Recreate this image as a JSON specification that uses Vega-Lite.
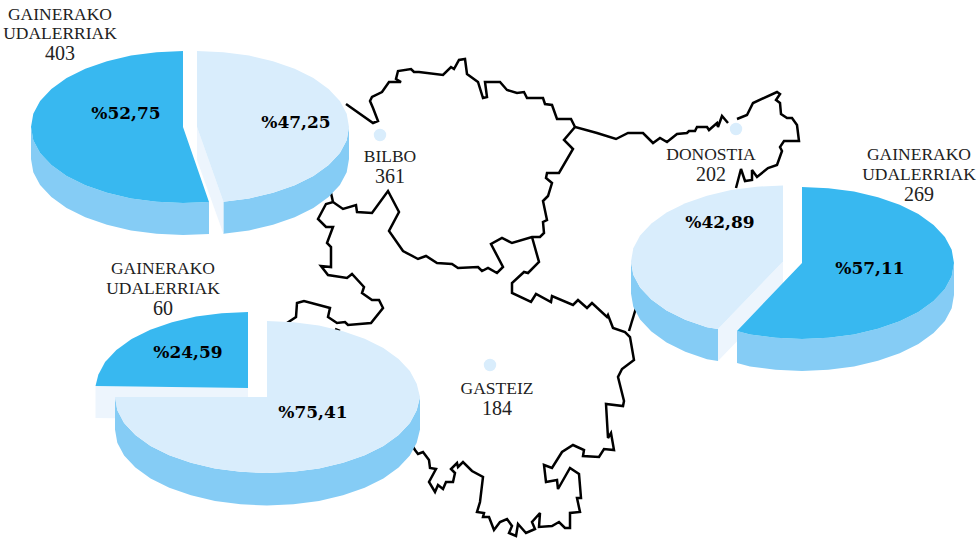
{"$schema":"https://vega.github.io/schema/vega-lite/v6.json","width":980,"height":539,"padding":0,"autosize":{"type":"none"},"background":"white","view":{"stroke":null},
"datasets":{
"map":[
{"g":"a","i":1,"x":346,"y":104},{"g":"a","i":2,"x":373,"y":123},{"g":"a","i":3,"x":378,"y":121},{"g":"a","i":4,"x":373,"y":108},{"g":"a","i":5,"x":370,"y":101},{"g":"a","i":6,"x":372,"y":97},{"g":"a","i":7,"x":382,"y":92},{"g":"a","i":8,"x":389,"y":82},{"g":"a","i":9,"x":401,"y":82},{"g":"a","i":10,"x":396,"y":79},{"g":"a","i":11,"x":398,"y":71},{"g":"a","i":12,"x":411,"y":69},{"g":"a","i":13,"x":414,"y":72},{"g":"a","i":14,"x":419,"y":72},{"g":"a","i":15,"x":443,"y":75},{"g":"a","i":16,"x":451,"y":67},{"g":"a","i":17,"x":454,"y":69},{"g":"a","i":18,"x":459,"y":60},{"g":"a","i":19,"x":465,"y":59},{"g":"a","i":20,"x":467,"y":74},{"g":"a","i":21,"x":478,"y":82},{"g":"a","i":22,"x":483,"y":98},{"g":"a","i":23,"x":487,"y":97},{"g":"a","i":24,"x":485,"y":82},{"g":"a","i":25,"x":500,"y":82},{"g":"a","i":26,"x":507,"y":90},{"g":"a","i":27,"x":517,"y":93},{"g":"a","i":28,"x":524,"y":92},{"g":"a","i":29,"x":527,"y":98},{"g":"a","i":30,"x":543,"y":98},{"g":"a","i":31,"x":545,"y":104},{"g":"a","i":32,"x":552,"y":105},{"g":"a","i":33,"x":557,"y":119},{"g":"a","i":34,"x":571,"y":119},{"g":"a","i":35,"x":575,"y":127},{"g":"a","i":36,"x":597,"y":133},{"g":"a","i":37,"x":616,"y":139},{"g":"a","i":38,"x":628,"y":133},{"g":"a","i":39,"x":643,"y":133},{"g":"a","i":40,"x":653,"y":143},{"g":"a","i":41,"x":660,"y":138},{"g":"a","i":42,"x":667,"y":142},{"g":"a","i":43,"x":677,"y":134},{"g":"a","i":44,"x":687,"y":133},{"g":"a","i":45,"x":689,"y":131},{"g":"a","i":46,"x":695,"y":131},{"g":"a","i":47,"x":697,"y":127},{"g":"a","i":48,"x":707,"y":127},{"g":"a","i":49,"x":709,"y":130},{"g":"a","i":50,"x":717,"y":123},{"g":"a","i":51,"x":718,"y":127},{"g":"a","i":52,"x":722,"y":116},{"g":"a","i":53,"x":728,"y":123},
{"g":"b","i":1,"x":737,"y":119},{"g":"b","i":2,"x":747,"y":115},{"g":"b","i":3,"x":753,"y":103},{"g":"b","i":4,"x":777,"y":92},{"g":"b","i":5,"x":780,"y":94},{"g":"b","i":6,"x":776,"y":100},{"g":"b","i":7,"x":780,"y":103},{"g":"b","i":8,"x":781,"y":114},{"g":"b","i":9,"x":787,"y":118},{"g":"b","i":10,"x":792,"y":118},{"g":"b","i":11,"x":797,"y":125},{"g":"b","i":12,"x":799,"y":141},{"g":"b","i":13,"x":784,"y":141},{"g":"b","i":14,"x":780,"y":147},{"g":"b","i":15,"x":782,"y":151},{"g":"b","i":16,"x":777,"y":165},{"g":"b","i":17,"x":768,"y":168},{"g":"b","i":18,"x":757,"y":177},{"g":"b","i":19,"x":752,"y":170},{"g":"b","i":20,"x":752,"y":180},{"g":"b","i":21,"x":745,"y":181},{"g":"b","i":22,"x":741,"y":169},{"g":"b","i":23,"x":736,"y":188},
{"g":"c","i":1,"x":575,"y":127},{"g":"c","i":2,"x":564,"y":140},{"g":"c","i":3,"x":573,"y":149},{"g":"c","i":4,"x":559,"y":173},{"g":"c","i":5,"x":547,"y":173},{"g":"c","i":6,"x":546,"y":178},{"g":"c","i":7,"x":552,"y":183},{"g":"c","i":8,"x":548,"y":196},{"g":"c","i":9,"x":543,"y":201},{"g":"c","i":10,"x":547,"y":220},{"g":"c","i":11,"x":543,"y":222},{"g":"c","i":12,"x":544,"y":233},{"g":"c","i":13,"x":540,"y":237},{"g":"c","i":14,"x":532,"y":237},{"g":"c","i":15,"x":512,"y":243},{"g":"c","i":16,"x":502,"y":238},{"g":"c","i":17,"x":491,"y":244},{"g":"c","i":18,"x":503,"y":267},{"g":"c","i":19,"x":497,"y":273},{"g":"c","i":20,"x":488,"y":268},{"g":"c","i":21,"x":482,"y":271},{"g":"c","i":22,"x":478,"y":267},{"g":"c","i":23,"x":458,"y":268},{"g":"c","i":24,"x":452,"y":264},{"g":"c","i":25,"x":437,"y":263},{"g":"c","i":26,"x":426,"y":256},{"g":"c","i":27,"x":418,"y":259},{"g":"c","i":28,"x":403,"y":251},{"g":"c","i":29,"x":389,"y":231},{"g":"c","i":30,"x":399,"y":212},{"g":"c","i":31,"x":388,"y":191},{"g":"c","i":32,"x":372,"y":213},{"g":"c","i":33,"x":357,"y":212},{"g":"c","i":34,"x":356,"y":205},{"g":"c","i":35,"x":343,"y":209},{"g":"c","i":36,"x":333,"y":202},{"g":"c","i":37,"x":326,"y":204},{"g":"c","i":38,"x":318,"y":219},{"g":"c","i":39,"x":326,"y":227},{"g":"c","i":40,"x":333,"y":227},{"g":"c","i":41,"x":327,"y":243},{"g":"c","i":42,"x":331,"y":247},{"g":"c","i":43,"x":331,"y":267},{"g":"c","i":44,"x":321,"y":266},{"g":"c","i":45,"x":328,"y":275},{"g":"c","i":46,"x":347,"y":278},{"g":"c","i":47,"x":352,"y":274},{"g":"c","i":48,"x":364,"y":287},{"g":"c","i":49,"x":362,"y":293},{"g":"c","i":50,"x":372,"y":300},{"g":"c","i":51,"x":379,"y":300},{"g":"c","i":52,"x":383,"y":308},{"g":"c","i":53,"x":371,"y":323},{"g":"c","i":54,"x":348,"y":325},{"g":"c","i":55,"x":345,"y":322},{"g":"c","i":56,"x":337,"y":323},{"g":"c","i":57,"x":328,"y":317},{"g":"c","i":58,"x":330,"y":308},{"g":"c","i":59,"x":304,"y":301},{"g":"c","i":60,"x":297,"y":303},{"g":"c","i":61,"x":296,"y":317},{"g":"c","i":62,"x":287,"y":323},
{"g":"d","i":1,"x":333,"y":202},{"g":"d","i":2,"x":331,"y":193},
{"g":"e","i":1,"x":335,"y":329},{"g":"e","i":2,"x":340,"y":331},
{"g":"f","i":1,"x":410,"y":442},{"g":"f","i":2,"x":415,"y":450},{"g":"f","i":3,"x":418,"y":454},{"g":"f","i":4,"x":423,"y":452},{"g":"f","i":5,"x":429,"y":460},{"g":"f","i":6,"x":430,"y":468},{"g":"f","i":7,"x":436,"y":469},{"g":"f","i":8,"x":429,"y":482},{"g":"f","i":9,"x":435,"y":492},{"g":"f","i":10,"x":438,"y":485},{"g":"f","i":11,"x":443,"y":489},{"g":"f","i":12,"x":446,"y":482},{"g":"f","i":13,"x":453,"y":482},{"g":"f","i":14,"x":455,"y":473},{"g":"f","i":15,"x":451,"y":469},{"g":"f","i":16,"x":457,"y":463},{"g":"f","i":17,"x":458,"y":467},{"g":"f","i":18,"x":463,"y":462},{"g":"f","i":19,"x":472,"y":471},{"g":"f","i":20,"x":483,"y":477},{"g":"f","i":21,"x":480,"y":502},{"g":"f","i":22,"x":477,"y":512},{"g":"f","i":23,"x":484,"y":513},{"g":"f","i":24,"x":483,"y":517},{"g":"f","i":25,"x":489,"y":517},{"g":"f","i":26,"x":494,"y":530},{"g":"f","i":27,"x":500,"y":522},{"g":"f","i":28,"x":507,"y":519},{"g":"f","i":29,"x":512,"y":526},{"g":"f","i":30,"x":509,"y":533},{"g":"f","i":31,"x":516,"y":536},{"g":"f","i":32,"x":518,"y":524},{"g":"f","i":33,"x":526,"y":533},{"g":"f","i":34,"x":535,"y":529},{"g":"f","i":35,"x":532,"y":522},{"g":"f","i":36,"x":540,"y":513},{"g":"f","i":37,"x":539,"y":527},{"g":"f","i":38,"x":552,"y":526},{"g":"f","i":39,"x":559,"y":522},{"g":"f","i":40,"x":565,"y":528},{"g":"f","i":41,"x":570,"y":528},{"g":"f","i":42,"x":570,"y":513},{"g":"f","i":43,"x":580,"y":512},{"g":"f","i":44,"x":577,"y":498},{"g":"f","i":45,"x":581,"y":498},{"g":"f","i":46,"x":579,"y":474},{"g":"f","i":47,"x":570,"y":468},{"g":"f","i":48,"x":558,"y":489},{"g":"f","i":49,"x":557,"y":480},{"g":"f","i":50,"x":546,"y":482},{"g":"f","i":51,"x":544,"y":465},{"g":"f","i":52,"x":552,"y":468},{"g":"f","i":53,"x":562,"y":452},{"g":"f","i":54,"x":573,"y":445},{"g":"f","i":55,"x":584,"y":450},{"g":"f","i":56,"x":583,"y":456},{"g":"f","i":57,"x":599,"y":457},{"g":"f","i":58,"x":604,"y":449},{"g":"f","i":59,"x":614,"y":450},{"g":"f","i":60,"x":611,"y":433},{"g":"f","i":61,"x":608,"y":438},{"g":"f","i":62,"x":606,"y":404},{"g":"f","i":63,"x":623,"y":406},{"g":"f","i":64,"x":624,"y":401},{"g":"f","i":65,"x":618,"y":377},{"g":"f","i":66,"x":622,"y":369},{"g":"f","i":67,"x":634,"y":360},{"g":"f","i":68,"x":630,"y":337},{"g":"f","i":69,"x":625,"y":332},{"g":"f","i":70,"x":613,"y":328},{"g":"f","i":71,"x":608,"y":315},{"g":"f","i":72,"x":607,"y":317},{"g":"f","i":73,"x":592,"y":303},{"g":"f","i":74,"x":587,"y":308},{"g":"f","i":75,"x":578,"y":300},{"g":"f","i":76,"x":573,"y":305},{"g":"f","i":77,"x":552,"y":296},{"g":"f","i":78,"x":551,"y":302},{"g":"f","i":79,"x":536,"y":294},{"g":"f","i":80,"x":531,"y":302},{"g":"f","i":81,"x":512,"y":293},{"g":"f","i":82,"x":512,"y":283},{"g":"f","i":83,"x":524,"y":272},{"g":"f","i":84,"x":528,"y":273},{"g":"f","i":85,"x":539,"y":262},{"g":"f","i":86,"x":532,"y":237},
{"g":"h","i":1,"x":629,"y":331},{"g":"h","i":2,"x":636,"y":308}
],
"under":[
{"s":"p1ds","k":"side","i":1,"x":31,"y":127},{"s":"p1ds","k":"side","i":2,"x":33.3,"y":140.2},{"s":"p1ds","k":"side","i":3,"x":40.1,"y":153},{"s":"p1ds","k":"side","i":4,"x":51.4,"y":165},{"s":"p1ds","k":"side","i":5,"x":66.6,"y":175.9},{"s":"p1ds","k":"side","i":6,"x":85.3,"y":185.2},{"s":"p1ds","k":"side","i":7,"x":107,"y":192.8},{"s":"p1ds","k":"side","i":8,"x":131,"y":198.4},{"s":"p1ds","k":"side","i":9,"x":156.6,"y":201.8},{"s":"p1ds","k":"side","i":10,"x":183,"y":203},{"s":"p1ds","k":"side","i":11,"x":209,"y":202},{"s":"p1ds","k":"side","i":12,"x":209,"y":234},{"s":"p1ds","k":"side","i":13,"x":183,"y":235},{"s":"p1ds","k":"side","i":14,"x":156.6,"y":233.8},{"s":"p1ds","k":"side","i":15,"x":131,"y":230.4},{"s":"p1ds","k":"side","i":16,"x":107,"y":224.8},{"s":"p1ds","k":"side","i":17,"x":85.3,"y":217.2},{"s":"p1ds","k":"side","i":18,"x":66.6,"y":207.9},{"s":"p1ds","k":"side","i":19,"x":51.4,"y":197},{"s":"p1ds","k":"side","i":20,"x":40.1,"y":185},{"s":"p1ds","k":"side","i":21,"x":33.3,"y":172.2},{"s":"p1ds","k":"side","i":22,"x":31,"y":159},
{"s":"p1ls","k":"side","i":1,"x":349,"y":127},{"s":"p1ls","k":"side","i":2,"x":346.7,"y":140.2},{"s":"p1ls","k":"side","i":3,"x":339.9,"y":153},{"s":"p1ls","k":"side","i":4,"x":328.6,"y":165},{"s":"p1ls","k":"side","i":5,"x":313.4,"y":175.9},{"s":"p1ls","k":"side","i":6,"x":294.7,"y":185.2},{"s":"p1ls","k":"side","i":7,"x":273,"y":192.8},{"s":"p1ls","k":"side","i":8,"x":249,"y":198.4},{"s":"p1ls","k":"side","i":9,"x":223.4,"y":201.8},{"s":"p1ls","k":"side","i":10,"x":223.4,"y":233.8},{"s":"p1ls","k":"side","i":11,"x":249,"y":230.4},{"s":"p1ls","k":"side","i":12,"x":273,"y":224.8},{"s":"p1ls","k":"side","i":13,"x":294.7,"y":217.2},{"s":"p1ls","k":"side","i":14,"x":313.4,"y":207.9},{"s":"p1ls","k":"side","i":15,"x":328.6,"y":197},{"s":"p1ls","k":"side","i":16,"x":339.9,"y":185},{"s":"p1ls","k":"side","i":17,"x":346.7,"y":172.2},{"s":"p1ls","k":"side","i":18,"x":349,"y":159},
{"s":"p1w","k":"wall","i":1,"x":197,"y":127},{"s":"p1w","k":"wall","i":2,"x":223.4,"y":201.8},{"s":"p1w","k":"wall","i":3,"x":223.4,"y":233.8},{"s":"p1w","k":"wall","i":4,"x":197,"y":160},
{"s":"p2ls","k":"side","i":1,"x":631,"y":261.5},{"s":"p2ls","k":"side","i":2,"x":633.3,"y":274.7},{"s":"p2ls","k":"side","i":3,"x":640.1,"y":287.5},{"s":"p2ls","k":"side","i":4,"x":651.4,"y":299.5},{"s":"p2ls","k":"side","i":5,"x":666.6,"y":310.4},{"s":"p2ls","k":"side","i":6,"x":685.3,"y":319.7},{"s":"p2ls","k":"side","i":7,"x":707,"y":327.3},{"s":"p2ls","k":"side","i":8,"x":718,"y":329},{"s":"p2ls","k":"side","i":9,"x":718,"y":361},{"s":"p2ls","k":"side","i":10,"x":707,"y":359.3},{"s":"p2ls","k":"side","i":11,"x":685.3,"y":351.7},{"s":"p2ls","k":"side","i":12,"x":666.6,"y":342.4},{"s":"p2ls","k":"side","i":13,"x":651.4,"y":331.5},{"s":"p2ls","k":"side","i":14,"x":640.1,"y":319.5},{"s":"p2ls","k":"side","i":15,"x":633.3,"y":306.7},{"s":"p2ls","k":"side","i":16,"x":631,"y":293.5},
{"s":"p2w","k":"wall","i":1,"x":783,"y":261.5},{"s":"p2w","k":"wall","i":2,"x":718,"y":329},{"s":"p2w","k":"wall","i":3,"x":718,"y":361},{"s":"p2w","k":"wall","i":4,"x":783,"y":294},
{"s":"p2ds","k":"side","i":1,"x":954,"y":263},{"s":"p2ds","k":"side","i":2,"x":951.7,"y":276.2},{"s":"p2ds","k":"side","i":3,"x":944.9,"y":289},{"s":"p2ds","k":"side","i":4,"x":933.6,"y":301},{"s":"p2ds","k":"side","i":5,"x":918.4,"y":311.9},{"s":"p2ds","k":"side","i":6,"x":899.7,"y":321.2},{"s":"p2ds","k":"side","i":7,"x":878,"y":328.8},{"s":"p2ds","k":"side","i":8,"x":854,"y":334.4},{"s":"p2ds","k":"side","i":9,"x":828.4,"y":337.8},{"s":"p2ds","k":"side","i":10,"x":802,"y":339},{"s":"p2ds","k":"side","i":11,"x":775.6,"y":337.8},{"s":"p2ds","k":"side","i":12,"x":750,"y":334.4},{"s":"p2ds","k":"side","i":13,"x":737,"y":331},{"s":"p2ds","k":"side","i":14,"x":737,"y":363},{"s":"p2ds","k":"side","i":15,"x":750,"y":366.4},{"s":"p2ds","k":"side","i":16,"x":775.6,"y":369.8},{"s":"p2ds","k":"side","i":17,"x":802,"y":371},{"s":"p2ds","k":"side","i":18,"x":828.4,"y":369.8},{"s":"p2ds","k":"side","i":19,"x":854,"y":366.4},{"s":"p2ds","k":"side","i":20,"x":878,"y":360.8},{"s":"p2ds","k":"side","i":21,"x":899.7,"y":353.2},{"s":"p2ds","k":"side","i":22,"x":918.4,"y":343.9},{"s":"p2ds","k":"side","i":23,"x":933.6,"y":333},{"s":"p2ds","k":"side","i":24,"x":944.9,"y":321},{"s":"p2ds","k":"side","i":25,"x":951.7,"y":308.2},{"s":"p2ds","k":"side","i":26,"x":954,"y":295},
{"s":"p3w","k":"wall","i":1,"x":95.5,"y":386},{"s":"p3w","k":"wall","i":2,"x":248,"y":388},{"s":"p3w","k":"wall","i":3,"x":248,"y":420},{"s":"p3w","k":"wall","i":4,"x":95.5,"y":418},
{"s":"p3ls","k":"side","i":1,"x":420,"y":397},{"s":"p3ls","k":"side","i":2,"x":416.7,"y":410.2},{"s":"p3ls","k":"side","i":3,"x":409.9,"y":423},{"s":"p3ls","k":"side","i":4,"x":398.6,"y":435},{"s":"p3ls","k":"side","i":5,"x":383.4,"y":445.9},{"s":"p3ls","k":"side","i":6,"x":364.7,"y":455.2},{"s":"p3ls","k":"side","i":7,"x":343,"y":462.8},{"s":"p3ls","k":"side","i":8,"x":319,"y":468.4},{"s":"p3ls","k":"side","i":9,"x":293.4,"y":471.8},{"s":"p3ls","k":"side","i":10,"x":267,"y":473},{"s":"p3ls","k":"side","i":11,"x":240.6,"y":471.8},{"s":"p3ls","k":"side","i":12,"x":215,"y":468.4},{"s":"p3ls","k":"side","i":13,"x":191,"y":462.8},{"s":"p3ls","k":"side","i":14,"x":169.3,"y":455.2},{"s":"p3ls","k":"side","i":15,"x":150.6,"y":445.9},{"s":"p3ls","k":"side","i":16,"x":135.4,"y":435},{"s":"p3ls","k":"side","i":17,"x":124.1,"y":423},{"s":"p3ls","k":"side","i":18,"x":117.3,"y":410.2},{"s":"p3ls","k":"side","i":19,"x":115,"y":397},{"s":"p3ls","k":"side","i":20,"x":115,"y":429.5},{"s":"p3ls","k":"side","i":21,"x":117.3,"y":442.7},{"s":"p3ls","k":"side","i":22,"x":124.1,"y":455.5},{"s":"p3ls","k":"side","i":23,"x":135.4,"y":467.5},{"s":"p3ls","k":"side","i":24,"x":150.6,"y":478.4},{"s":"p3ls","k":"side","i":25,"x":169.3,"y":487.7},{"s":"p3ls","k":"side","i":26,"x":191,"y":495.3},{"s":"p3ls","k":"side","i":27,"x":215,"y":500.9},{"s":"p3ls","k":"side","i":28,"x":240.6,"y":504.3},{"s":"p3ls","k":"side","i":29,"x":267,"y":505.5},{"s":"p3ls","k":"side","i":30,"x":293.4,"y":504.3},{"s":"p3ls","k":"side","i":31,"x":319,"y":500.9},{"s":"p3ls","k":"side","i":32,"x":343,"y":495.3},{"s":"p3ls","k":"side","i":33,"x":364.7,"y":487.7},{"s":"p3ls","k":"side","i":34,"x":383.4,"y":478.4},{"s":"p3ls","k":"side","i":35,"x":398.6,"y":467.5},{"s":"p3ls","k":"side","i":36,"x":409.9,"y":455.5},{"s":"p3ls","k":"side","i":37,"x":416.7,"y":442.7},{"s":"p3ls","k":"side","i":38,"x":420,"y":429.5}
],
"top":[
{"s":"p1d","k":"dark","i":1,"x":183,"y":127},{"s":"p1d","k":"dark","i":2,"x":183,"y":51},{"s":"p1d","k":"dark","i":3,"x":156.6,"y":52.2},{"s":"p1d","k":"dark","i":4,"x":131,"y":55.6},{"s":"p1d","k":"dark","i":5,"x":107,"y":61.2},{"s":"p1d","k":"dark","i":6,"x":85.3,"y":68.8},{"s":"p1d","k":"dark","i":7,"x":66.6,"y":78.1},{"s":"p1d","k":"dark","i":8,"x":51.4,"y":89},{"s":"p1d","k":"dark","i":9,"x":40.1,"y":101},{"s":"p1d","k":"dark","i":10,"x":33.3,"y":113.8},{"s":"p1d","k":"dark","i":11,"x":31,"y":127},{"s":"p1d","k":"dark","i":12,"x":33.3,"y":140.2},{"s":"p1d","k":"dark","i":13,"x":40.1,"y":153},{"s":"p1d","k":"dark","i":14,"x":51.4,"y":165},{"s":"p1d","k":"dark","i":15,"x":66.6,"y":175.9},{"s":"p1d","k":"dark","i":16,"x":85.3,"y":185.2},{"s":"p1d","k":"dark","i":17,"x":107,"y":192.8},{"s":"p1d","k":"dark","i":18,"x":131,"y":198.4},{"s":"p1d","k":"dark","i":19,"x":156.6,"y":201.8},{"s":"p1d","k":"dark","i":20,"x":183,"y":203},{"s":"p1d","k":"dark","i":21,"x":209,"y":202},
{"s":"p1l","k":"light","i":1,"x":197,"y":127},{"s":"p1l","k":"light","i":2,"x":197,"y":51},{"s":"p1l","k":"light","i":3,"x":223.4,"y":52.2},{"s":"p1l","k":"light","i":4,"x":249,"y":55.6},{"s":"p1l","k":"light","i":5,"x":273,"y":61.2},{"s":"p1l","k":"light","i":6,"x":294.7,"y":68.8},{"s":"p1l","k":"light","i":7,"x":313.4,"y":78.1},{"s":"p1l","k":"light","i":8,"x":328.6,"y":89},{"s":"p1l","k":"light","i":9,"x":339.9,"y":101},{"s":"p1l","k":"light","i":10,"x":346.7,"y":113.8},{"s":"p1l","k":"light","i":11,"x":349,"y":127},{"s":"p1l","k":"light","i":12,"x":346.7,"y":140.2},{"s":"p1l","k":"light","i":13,"x":339.9,"y":153},{"s":"p1l","k":"light","i":14,"x":328.6,"y":165},{"s":"p1l","k":"light","i":15,"x":313.4,"y":175.9},{"s":"p1l","k":"light","i":16,"x":294.7,"y":185.2},{"s":"p1l","k":"light","i":17,"x":273,"y":192.8},{"s":"p1l","k":"light","i":18,"x":249,"y":198.4},{"s":"p1l","k":"light","i":19,"x":223.4,"y":201.8},
{"s":"p2l","k":"light","i":1,"x":783,"y":261.5},{"s":"p2l","k":"light","i":2,"x":783,"y":185.5},{"s":"p2l","k":"light","i":3,"x":756.6,"y":186.7},{"s":"p2l","k":"light","i":4,"x":731,"y":190.1},{"s":"p2l","k":"light","i":5,"x":707,"y":195.7},{"s":"p2l","k":"light","i":6,"x":685.3,"y":203.3},{"s":"p2l","k":"light","i":7,"x":666.6,"y":212.6},{"s":"p2l","k":"light","i":8,"x":651.4,"y":223.5},{"s":"p2l","k":"light","i":9,"x":640.1,"y":235.5},{"s":"p2l","k":"light","i":10,"x":633.3,"y":248.3},{"s":"p2l","k":"light","i":11,"x":631,"y":261.5},{"s":"p2l","k":"light","i":12,"x":633.3,"y":274.7},{"s":"p2l","k":"light","i":13,"x":640.1,"y":287.5},{"s":"p2l","k":"light","i":14,"x":651.4,"y":299.5},{"s":"p2l","k":"light","i":15,"x":666.6,"y":310.4},{"s":"p2l","k":"light","i":16,"x":685.3,"y":319.7},{"s":"p2l","k":"light","i":17,"x":707,"y":327.3},{"s":"p2l","k":"light","i":18,"x":718,"y":329},
{"s":"p2d","k":"dark","i":1,"x":802,"y":263},{"s":"p2d","k":"dark","i":2,"x":802,"y":187},{"s":"p2d","k":"dark","i":3,"x":828.4,"y":188.2},{"s":"p2d","k":"dark","i":4,"x":854,"y":191.6},{"s":"p2d","k":"dark","i":5,"x":878,"y":197.2},{"s":"p2d","k":"dark","i":6,"x":899.7,"y":204.8},{"s":"p2d","k":"dark","i":7,"x":918.4,"y":214.1},{"s":"p2d","k":"dark","i":8,"x":933.6,"y":225},{"s":"p2d","k":"dark","i":9,"x":944.9,"y":237},{"s":"p2d","k":"dark","i":10,"x":951.7,"y":249.8},{"s":"p2d","k":"dark","i":11,"x":954,"y":263},{"s":"p2d","k":"dark","i":12,"x":951.7,"y":276.2},{"s":"p2d","k":"dark","i":13,"x":944.9,"y":289},{"s":"p2d","k":"dark","i":14,"x":933.6,"y":301},{"s":"p2d","k":"dark","i":15,"x":918.4,"y":311.9},{"s":"p2d","k":"dark","i":16,"x":899.7,"y":321.2},{"s":"p2d","k":"dark","i":17,"x":878,"y":328.8},{"s":"p2d","k":"dark","i":18,"x":854,"y":334.4},{"s":"p2d","k":"dark","i":19,"x":828.4,"y":337.8},{"s":"p2d","k":"dark","i":20,"x":802,"y":339},{"s":"p2d","k":"dark","i":21,"x":775.6,"y":337.8},{"s":"p2d","k":"dark","i":22,"x":750,"y":334.4},{"s":"p2d","k":"dark","i":23,"x":737,"y":331},
{"s":"p3d","k":"dark","i":1,"x":248,"y":388},{"s":"p3d","k":"dark","i":2,"x":248,"y":312},{"s":"p3d","k":"dark","i":3,"x":221.6,"y":313.2},{"s":"p3d","k":"dark","i":4,"x":196,"y":316.6},{"s":"p3d","k":"dark","i":5,"x":172,"y":322.2},{"s":"p3d","k":"dark","i":6,"x":150.3,"y":329.8},{"s":"p3d","k":"dark","i":7,"x":131.6,"y":339.1},{"s":"p3d","k":"dark","i":8,"x":116.4,"y":350},{"s":"p3d","k":"dark","i":9,"x":105.1,"y":362},{"s":"p3d","k":"dark","i":10,"x":98.3,"y":374.8},{"s":"p3d","k":"dark","i":11,"x":95.5,"y":386},
{"s":"p3l","k":"light","i":1,"x":267,"y":397},{"s":"p3l","k":"light","i":2,"x":267,"y":321},{"s":"p3l","k":"light","i":3,"x":293.4,"y":322.2},{"s":"p3l","k":"light","i":4,"x":319,"y":325.6},{"s":"p3l","k":"light","i":5,"x":343,"y":331.2},{"s":"p3l","k":"light","i":6,"x":364.7,"y":338.8},{"s":"p3l","k":"light","i":7,"x":383.4,"y":348.1},{"s":"p3l","k":"light","i":8,"x":398.6,"y":359},{"s":"p3l","k":"light","i":9,"x":409.9,"y":371},{"s":"p3l","k":"light","i":10,"x":416.7,"y":383.8},{"s":"p3l","k":"light","i":11,"x":420,"y":397},{"s":"p3l","k":"light","i":12,"x":416.7,"y":410.2},{"s":"p3l","k":"light","i":13,"x":409.9,"y":423},{"s":"p3l","k":"light","i":14,"x":398.6,"y":435},{"s":"p3l","k":"light","i":15,"x":383.4,"y":445.9},{"s":"p3l","k":"light","i":16,"x":364.7,"y":455.2},{"s":"p3l","k":"light","i":17,"x":343,"y":462.8},{"s":"p3l","k":"light","i":18,"x":319,"y":468.4},{"s":"p3l","k":"light","i":19,"x":293.4,"y":471.8},{"s":"p3l","k":"light","i":20,"x":267,"y":473},{"s":"p3l","k":"light","i":21,"x":240.6,"y":471.8},{"s":"p3l","k":"light","i":22,"x":215,"y":468.4},{"s":"p3l","k":"light","i":23,"x":191,"y":462.8},{"s":"p3l","k":"light","i":24,"x":169.3,"y":455.2},{"s":"p3l","k":"light","i":25,"x":150.6,"y":445.9},{"s":"p3l","k":"light","i":26,"x":135.4,"y":435},{"s":"p3l","k":"light","i":27,"x":124.1,"y":423},{"s":"p3l","k":"light","i":28,"x":117.3,"y":410.2},{"s":"p3l","k":"light","i":29,"x":115,"y":397}
],
"dots":[{"x":380,"y":135},{"x":736,"y":129},{"x":490,"y":365}],
"labels":[
{"x":60,"y":15,"t":"GAINERAKO"},{"x":60,"y":34,"t":"UDALERRIAK"},
{"x":390,"y":157,"t":"BILBO"},
{"x":711,"y":155,"t":"DONOSTIA"},
{"x":919,"y":155,"t":"GAINERAKO"},{"x":919,"y":175,"t":"UDALERRIAK"},
{"x":163,"y":269,"t":"GAINERAKO"},{"x":163,"y":289,"t":"UDALERRIAK"},
{"x":497,"y":389,"t":"GASTEIZ"}
],
"nums":[
{"x":60,"y":54,"t":"403"},{"x":390,"y":177,"t":"361"},{"x":711,"y":175,"t":"202"},{"x":919,"y":195,"t":"269"},{"x":163,"y":309,"t":"60"},{"x":497,"y":409,"t":"184"}
],
"pct":[
{"x":126,"y":114,"t":"%52,75"},{"x":296,"y":123,"t":"%47,25"},{"x":720,"y":223,"t":"%42,89"},{"x":870,"y":269,"t":"%57,11"},{"x":188,"y":353,"t":"%24,59"},{"x":313,"y":413,"t":"%75,41"}
]
},
"encoding":{
"x":{"field":"x","type":"quantitative","scale":{"domain":[0,980]},"axis":null},
"y":{"field":"y","type":"quantitative","scale":{"domain":[539,0]},"axis":null}
},
"layer":[
{"data":{"name":"map"},"mark":{"type":"line","stroke":"#000000","strokeWidth":2.5,"strokeJoin":"miter","strokeMiterLimit":3},"encoding":{"detail":{"field":"g"},"order":{"field":"i"}}},
{"data":{"name":"dots"},"mark":{"type":"point","filled":true,"size":154,"shape":"circle","color":"#d9edfc","opacity":1}},
{"data":{"name":"under"},"mark":{"type":"line","interpolate":"linear-closed","strokeWidth":0},"encoding":{"detail":{"field":"s"},"order":{"field":"i"},"fill":{"field":"k","type":"nominal","legend":null,"scale":{"domain":["side","wall","dark","light"],"range":["#85ccf5","#edf5fd","#38b8f0","#d9edfc"]}}}},
{"data":{"name":"top"},"mark":{"type":"line","interpolate":"linear-closed","strokeWidth":0},"encoding":{"detail":{"field":"s"},"order":{"field":"i"},"fill":{"field":"k","type":"nominal","legend":null,"scale":{"domain":["side","wall","dark","light"],"range":["#85ccf5","#edf5fd","#38b8f0","#d9edfc"]}}}},
{"data":{"name":"labels"},"mark":{"type":"text","font":"Liberation Serif","fontSize":17.5,"color":"#222222","align":"center","baseline":"middle"},"encoding":{"text":{"field":"t"}}},
{"data":{"name":"nums"},"mark":{"type":"text","font":"Liberation Serif","fontSize":20,"color":"#222222","align":"center","baseline":"middle"},"encoding":{"text":{"field":"t"}}},
{"data":{"name":"pct"},"mark":{"type":"text","font":"DejaVu Serif","fontWeight":"bold","fontSize":17,"color":"#000000","align":"center","baseline":"middle"},"encoding":{"text":{"field":"t"}}}
]}
